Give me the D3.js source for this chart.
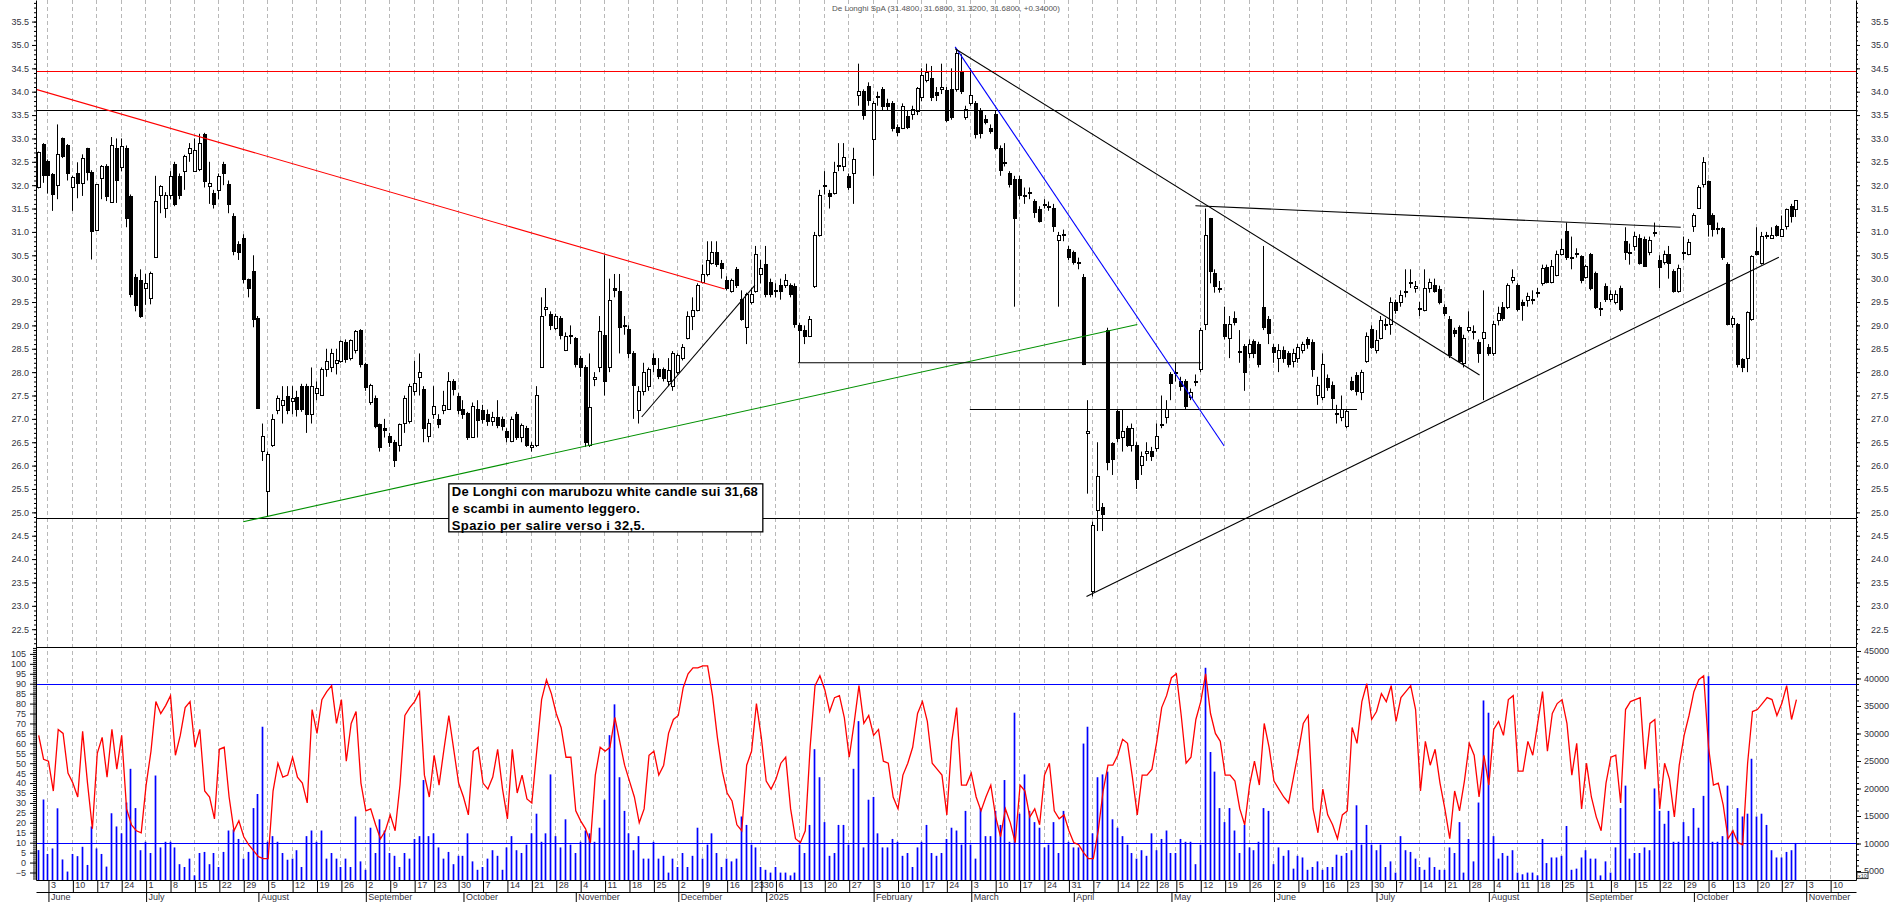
<!DOCTYPE html>
<html>
<head>
<meta charset="utf-8">
<title>De Longhi SpA</title>
<script src="https://cdnjs.cloudflare.com/ajax/libs/d3/7.8.5/d3.min.js"></script>
<style>
  body { margin: 0; background: #fff; }
  svg { display: block; }
</style>
</head>
<body>
<svg id="chart" width="1890" height="902"></svg>
<script>
// Dati (sedute dal 30/05/2024 al 30/10/2025)
const opens = [
  31.97,32.88,32.51,32.24,32.01,33.00,32.86,31.96,32.26,32.04,32.79,32.28,31.05,32.16,32.42,31.63,32.80,
  32.38,32.80,31.76,30.04,29.98,29.80,29.58,30.46,
  31.78,31.52,31.78,32.46,32.20,32.30,32.68,32.30,32.35,33.10,
  31.99,31.84,31.90,32.46,32.02,31.33,30.74,30.88,30.00,30.16,
  29.16,26.31,25.46,26.44,27.20,27.30,27.50,27.38,27.46,27.70,
  27.70,27.10,27.55,27.52,28.06,28.10,28.20,28.24,28.64,28.30,
  28.48,28.90,28.18,27.36,27.44,26.88,26.80,26.64,26.50,26.44,
  26.92,26.96,27.60,27.90,27.64,26.64,27.10,27.00,27.20,27.22,
  27.80,27.50,27.22,27.12,26.62,27.22,27.20,27.10,26.95,27.04,
  27.00,26.74,26.52,27.10,26.62,26.80,26.40,26.44,28.12,29.35,
  29.24,28.94,29.16,28.48,28.80,28.72,28.30,28.12,26.44,27.85,
  28.12,28.80,28.12,29.80,29.74,29.00,28.92,28.40,27.20,27.60,
  27.70,28.30,28.06,28.06,27.82,27.70,28.00,28.30,28.72,29.20,
  29.32,29.92,30.10,30.34,30.56,30.34,29.98,29.74,30.20,29.56,
  28.96,29.50,29.74,30.10,30.32,29.92,29.74,29.86,29.86,29.86,
  29.84,29.00,28.90,28.78,29.84,30.94,32.00,31.84,31.84,32.40,
  32.40,32.20,32.26,33.94,34.02,34.12,32.98,33.90,34.06,33.76,
  33.76,33.24,33.22,33.48,33.52,33.58,33.88,34.24,34.30,34.00,
  34.06,34.04,34.06,34.06,34.42,33.46,33.76,33.76,33.58,33.42,
  33.22,33.52,32.80,32.50,32.26,32.14,32.14,31.80,31.84,31.66,
  31.48,31.58,31.56,31.52,30.82,30.94,30.64,30.56,30.36,30.04,
  26.70,23.32,25.06,25.12,28.90,26.48,27.16,26.62,26.80,26.44,
  26.44,26.02,26.28,26.32,26.38,26.90,27.04,27.96,27.98,27.82,
  27.82,27.46,27.80,28.06,29.02,31.30,30.12,29.80,29.02,28.72,
  29.16,28.46,28.56,28.42,28.66,28.60,
  29.40,29.14,28.54,28.30,28.48,28.40,28.24,28.30,28.48,28.70,
  28.64,27.52,27.46,27.88,27.72,27.12,27.04,26.84,27.82,27.94,
  27.58,28.24,28.92,28.48,28.72,29.02,29.02,29.50,29.50,29.72,
  29.90,29.80,29.36,29.32,29.80,29.86,29.78,29.40,29.14,28.90,
  28.96,28.20,28.90,28.86,28.64,28.72,28.54,28.40,29.12,29.40,
  29.40,29.98,29.86,29.50,29.54,29.56,29.70,29.90,30.26,29.92,
  30.08,30.52,31.02,30.46,30.52,30.48,30.04,30.52,30.12,29.36,
  29.84,29.56,29.50,29.80,30.80,30.56,30.70,30.88,30.84,30.58,
  30.98,30.40,30.36,30.52,30.16,29.74,30.56,30.52,31.12,31.52,
  32.02,32.08,31.36,31.06,31.08,30.32,29.04,29.04,28.28,28.30,
  29.14,30.60,30.34,30.92,30.88,31.12,30.92,31.12,31.56,31.48
];
const highs = [
  32.72,32.90,32.55,32.26,33.30,33.02,32.88,32.20,32.49,32.66,32.80,32.32,32.02,32.43,32.45,33.03,33.00,
  33.00,32.85,31.80,30.10,30.20,30.10,30.15,32.20,
  32.00,31.85,32.30,32.50,32.25,32.65,32.90,33.00,33.10,33.12,
  32.50,31.90,32.25,32.50,32.10,31.40,30.80,30.95,30.00,30.50,
  29.20,26.90,26.30,27.10,27.50,27.70,27.70,27.70,27.60,27.75,
  27.75,28.10,27.80,28.10,28.50,28.50,28.50,28.68,28.70,28.70,
  28.90,28.92,28.20,27.75,27.50,26.90,27.00,26.70,26.55,26.90,
  27.50,27.75,28.24,28.40,27.70,27.00,27.70,27.10,27.60,28.00,
  27.85,27.55,27.40,27.15,27.35,27.40,27.30,27.20,27.15,27.40,
  27.05,26.80,27.05,27.15,26.90,26.85,26.50,27.70,29.60,29.80,
  29.30,29.25,29.20,28.85,29.00,28.75,28.35,28.15,28.40,28.00,
  29.20,30.50,30.00,30.10,30.10,29.20,29.00,28.45,27.70,28.20,
  28.10,28.40,28.30,28.10,28.30,28.45,28.40,28.60,29.30,29.60,
  29.90,30.30,30.80,30.80,30.80,30.40,30.05,30.00,30.25,29.75,
  29.70,29.80,30.70,30.40,30.70,30.00,29.90,30.00,30.10,29.90,
  29.90,29.05,29.00,29.20,31.00,31.90,32.30,31.90,32.50,32.90,
  32.90,32.25,32.80,34.60,34.05,34.20,33.80,34.00,34.10,33.85,
  33.80,33.30,33.75,33.60,33.70,34.10,34.50,34.60,34.55,34.10,
  34.60,34.10,34.50,34.90,34.80,33.70,34.50,33.80,33.65,33.50,
  33.30,33.60,32.85,32.90,32.30,32.20,32.20,31.95,31.95,31.70,
  31.55,31.70,31.65,31.60,31.00,31.05,30.70,30.60,30.45,30.10,
  27.40,24.80,26.50,25.20,28.95,26.50,27.20,27.20,26.85,26.90,
  26.50,26.30,26.50,26.40,26.90,27.50,27.40,28.00,28.20,27.90,
  27.85,27.65,27.95,28.95,31.50,31.30,30.20,29.95,29.40,29.20,
  29.30,28.90,28.60,28.70,28.70,28.65,
  30.70,29.20,28.60,28.60,28.55,28.45,28.50,28.60,28.65,28.75,
  28.70,27.90,28.40,27.95,27.80,27.30,27.50,27.20,27.90,28.00,
  28.05,28.85,29.00,28.90,29.20,29.15,29.60,29.55,29.75,30.20,
  30.20,29.95,29.50,30.20,30.00,30.00,29.85,29.45,29.20,28.95,
  29.00,28.80,29.30,29.00,28.70,29.75,28.60,29.10,29.40,29.50,
  29.90,30.20,29.90,29.55,29.70,29.75,29.80,30.30,30.30,30.40,
  30.60,30.85,31.20,30.90,30.65,30.50,30.30,30.55,30.15,29.50,
  29.90,29.75,29.75,29.85,31.10,30.75,31.00,30.95,30.90,30.90,
  31.20,30.50,30.60,30.70,30.20,30.30,30.90,30.85,31.40,32.00,
  32.60,32.10,31.40,31.20,31.10,30.35,29.20,29.05,28.30,29.30,
  30.50,31.10,31.00,31.00,31.10,31.15,31.35,31.50,31.60,31.68
];
const lows = [
  31.93,32.05,31.82,31.45,31.70,32.58,32.10,31.45,31.72,31.77,32.10,30.41,31.03,31.70,31.66,31.62,31.62,
  32.30,31.10,29.60,29.30,29.16,29.44,29.45,30.46,
  31.40,31.30,31.70,31.55,31.70,31.90,32.50,32.30,32.30,31.95,
  31.60,31.50,31.70,32.00,31.40,30.50,30.40,29.90,29.60,28.96,
  27.22,26.10,24.90,26.40,27.10,26.90,27.10,27.10,27.05,27.15,
  26.70,26.90,27.40,27.50,27.90,28.00,27.95,28.20,28.20,28.25,
  28.40,28.10,27.60,27.30,26.80,26.30,26.60,26.40,25.97,26.30,
  26.70,26.90,27.50,27.50,26.50,26.50,27.00,26.80,27.10,27.20,
  27.50,27.10,27.00,26.55,26.60,26.60,26.90,26.85,26.85,26.80,
  26.75,26.50,26.50,26.55,26.50,26.40,26.30,26.40,28.10,29.20,
  28.90,28.90,28.70,28.45,28.60,28.10,27.90,26.40,26.40,27.70,
  28.00,27.50,28.00,29.60,28.40,28.80,28.30,27.00,26.90,27.50,
  27.60,28.00,27.85,27.80,27.70,27.60,27.95,28.25,28.70,28.90,
  29.30,29.90,30.05,30.30,30.25,30.00,29.75,29.70,29.80,29.10,
  28.60,29.45,29.70,29.90,29.60,29.60,29.60,29.55,29.80,29.60,
  28.95,28.20,28.60,28.75,29.80,30.90,31.80,31.50,31.80,32.30,
  32.30,31.90,31.60,33.70,33.40,33.70,32.20,33.70,33.60,33.60,
  33.15,33.05,33.20,33.20,33.40,33.50,33.80,34.20,33.80,33.80,
  33.95,33.35,33.40,34.00,33.95,33.40,33.70,33.00,33.00,33.30,
  33.10,32.75,32.20,32.40,31.95,29.40,31.70,31.60,31.70,31.30,
  31.20,31.50,31.45,31.00,29.40,30.80,30.40,30.30,30.20,28.15,
  25.40,23.20,24.60,24.60,25.90,25.80,26.50,26.30,26.40,26.30,
  25.50,25.80,26.10,26.10,26.30,26.80,26.90,27.40,27.80,27.60,
  27.20,27.40,27.70,28.00,28.90,29.90,29.70,29.70,28.70,28.30,
  29.00,28.20,27.60,28.30,28.30,28.10,
  28.90,28.60,28.20,28.00,28.20,28.10,28.10,28.20,28.40,28.50,
  27.90,27.30,27.40,27.60,27.20,26.90,26.95,26.80,27.60,27.50,
  27.40,28.20,28.50,28.40,28.70,28.90,28.80,29.25,29.40,29.60,
  29.80,29.70,29.20,29.30,29.70,29.70,29.45,29.20,28.30,28.75,
  28.20,28.10,28.85,28.70,28.20,27.40,28.35,28.35,29.00,29.10,
  29.35,29.90,29.30,29.10,29.40,29.45,29.60,29.85,29.90,29.90,
  30.05,30.50,30.40,30.20,30.45,29.90,30.00,29.75,29.35,29.20,
  29.50,29.50,29.45,29.30,30.40,30.30,30.60,30.30,30.25,30.50,
  30.90,29.80,30.30,30.00,29.70,29.70,30.40,30.50,31.00,31.50,
  31.95,30.90,30.90,30.95,30.40,29.00,28.95,28.10,28.00,28.00,
  29.10,30.50,30.30,30.85,30.85,30.90,30.90,31.05,31.20,31.32
];
const closes = [
  32.70,32.22,32.22,31.82,32.66,32.63,32.27,32.17,32.04,32.59,32.28,31.01,32.02,32.42,31.77,32.85,32.12,
  32.84,31.30,29.68,29.44,29.20,29.90,30.12,31.66,
  31.98,31.78,32.20,31.60,31.78,32.62,32.80,32.75,32.90,32.08,
  32.05,31.60,32.20,32.26,31.60,30.60,30.58,30.00,29.80,29.14,
  27.24,26.64,26.24,27.00,27.44,27.40,27.20,27.45,27.22,27.22,
  27.10,27.70,27.65,28.06,28.24,28.40,28.25,28.66,28.28,28.68,
  28.88,28.18,27.68,27.72,26.84,26.40,26.76,26.50,26.12,26.88,
  27.44,27.70,27.76,28.00,26.80,26.92,27.28,26.88,27.30,27.82,
  27.64,27.20,27.10,26.62,27.28,26.98,27.00,26.95,27.04,26.86,
  26.85,26.62,27.00,26.62,26.86,26.44,26.44,27.52,29.20,29.40,
  29.00,29.20,28.80,28.78,28.80,28.18,28.12,26.50,27.25,27.90,
  28.88,27.80,29.54,29.75,28.96,29.00,28.40,27.72,27.60,28.00,
  28.06,28.18,27.92,27.88,28.04,28.40,28.36,28.54,29.20,29.32,
  29.86,30.10,30.40,30.58,30.32,30.22,29.80,29.98,29.86,29.14,
  29.68,29.68,30.52,30.22,29.68,29.68,29.76,29.74,29.98,29.68,
  29.02,28.90,28.78,29.14,30.94,31.78,32.00,31.76,32.28,32.44,
  32.60,31.96,32.56,34.02,33.50,33.82,33.76,33.88,33.70,33.70,
  33.22,33.14,33.70,33.24,33.64,34.08,34.36,34.42,33.88,33.92,
  34.10,33.40,33.46,34.82,34.02,33.64,33.94,33.10,33.12,33.36,
  33.16,32.80,32.32,32.50,32.02,31.30,31.78,31.78,31.86,31.42,
  31.24,31.60,31.54,31.12,30.94,30.96,30.46,30.36,30.34,28.18,
  26.74,24.72,25.78,24.96,26.08,26.14,26.60,26.74,26.44,26.80,
  25.72,26.20,26.32,26.20,26.64,26.86,27.22,27.76,28.00,27.70,
  27.28,27.58,27.82,28.90,30.94,30.16,29.84,29.80,28.78,29.04,
  29.08,28.44,28.00,28.60,28.42,28.18,
  28.96,28.84,28.44,28.48,28.30,28.18,28.40,28.54,28.60,28.60,
  28.06,27.72,28.18,27.68,27.44,27.10,27.22,27.16,27.64,27.60,
  28.00,28.78,28.54,28.68,29.12,29.04,29.50,29.32,29.64,29.74,
  29.92,29.84,29.38,29.80,29.92,29.74,29.50,29.26,28.36,28.84,
  28.24,28.72,28.96,28.88,28.42,28.86,28.40,29.04,29.26,29.16,
  29.86,30.04,29.36,29.44,29.62,29.56,29.72,30.22,29.92,30.28,
  30.52,30.64,30.46,30.44,30.54,29.98,30.28,29.80,29.40,29.38,
  29.56,29.68,29.68,29.36,30.56,30.58,30.92,30.34,30.28,30.82,
  31.00,30.24,30.52,30.34,29.74,30.22,30.58,30.78,31.36,31.96,
  32.50,31.18,31.06,31.08,30.46,29.02,29.16,28.18,28.10,29.28,
  30.48,30.52,30.92,30.94,30.94,30.94,31.06,31.48,31.34,31.68
];
// oscillatore 0-100 (scala di sinistra del pannello inferiore)
const oscillator = [
  64,52,51,36,67,65,45,40,33,66,40,17,55,63,43,67,47,
  64,27,19,16,15,39,56,81,75,79,
  84,54,64,78,81,58,67,36,33,22,
  57,58,33,16,21,13,9,6,3,2,
  2,36,50,43,44,53,43,40,30,77,
  65,82,86,89,70,82,51,70,76,40,
  26,27,19,12,16,24,16,39,74,78,
  81,86,44,33,54,39,57,74,57,40,
  33,24,56,58,40,37,43,57,37,22,
  57,35,44,32,30,56,82,92,85,75,
  68,53,53,26,21,17,10,44,58,56,
  58,73,61,49,41,33,20,27,
  54,56,44,49,65,72,74,88,95,98,
  98,99,99,84,63,46,35,31,19,16,
  49,56,80,63,41,37,42,50,53,27,
  12,10,16,58,89,94,87,76,83,84,
  73,53,70,89,70,74,64,67,51,50,
  33,27,44,50,58,75,81,71,50,47,
  44,24,61,78,39,39,45,33,26,33,
  39,23,13,27,20,10,39,36,23,27,
  19,44,50,26,22,24,16,10,9,5,
  2,2,16,36,49,49,54,62,60,43,
  24,44,44,47,61,78,84,93,95,74,
  50,53,72,81,95,75,65,61,44,44,
  41,27,19,39,51,39,
  70,58,41,37,33,30,43,56,70,74,
  27,15,37,24,19,12,24,26,68,60,
  81,90,72,76,85,81,89,71,83,86,
  89,77,36,61,49,57,40,27,12,36,
  26,41,60,54,33,54,39,67,71,64,
  82,84,46,46,61,54,70,86,56,75,
  80,82,70,44,60,27,50,33,23,16,
  40,53,54,30,77,81,82,83,47,70,
  72,27,50,42,23,49,64,74,86,92,
  94,58,39,40,29,12,16,10,9,50,
  76,77,80,83,82,74,80,89,72,82
];
// volumi (x10, scala di destra del pannello inferiore)
const volumes = [
  8800,18000,8100,9100,16400,7100,4900,8100,7700,9400,6100,13100,9100,8100,5800,15500,13100,
  11850,17450,23580,16440,8780,10310,8270,22360,9290,10310,
  10310,9290,6240,5730,7250,4200,8270,8470,6240,8270,
  5730,8470,12360,12560,10830,7250,8470,16440,19000,31230,
  10310,11340,10310,8270,7050,7250,8780,5730,11340,12360,
  10310,12360,7250,8270,7250,5730,7250,5730,14910,6750,
  5220,12870,8270,14400,12360,8270,7760,5730,8270,7250,
  10830,11340,21540,11340,11850,9290,7250,8470,6240,7760,
  7760,11850,6750,5220,5730,7250,8780,7760,5220,9290,
  11340,8780,8270,9800,11850,15420,10310,11850,22560,11340,
  9290,14400,9800,8270,10310,12360,11850,10310,12870,17960,
  29700,35300,22050,15930,11850,8780,11340,7250,
  7250,
  10300,7250,7760,4710,7250,5730,8270,5730,7760,12870,
  7250,9800,11850,8270,5730,7250,6750,7250,14910,13380,
  9800,9290,5730,5220,4710,5730,4710,4710,4200,4710,
  9800,8270,13380,27150,22050,13890,7760,8270,13380,13380,
  9800,23580,32250,9290,17960,18470,11850,9290,9290,10830,
  10310,7760,8270,5730,9290,10310,13380,8270,7760,8270,
  10830,12870,12360,9800,15930,9800,7250,16440,11340,11340,
  15930,13380,21540,10310,33780,15420,22560,15930,13890,12870,
  9290,9800,13890,8270,15930,10310,9290,9290,28170,31230,
  11850,22050,22560,23070,14400,12870,11340,9800,8270,7250,
  8780,7760,11850,8780,10830,12360,8270,8270,10830,10310,
  10310,6240,9800,41950,26640,23070,16440,13890,16440,12360,
  8270,13380,9290,8780,10310,
  16440,15930,6240,9290,7760,8780,5430,7760,7460,5220,
  5730,6750,5220,5730,5730,7970,7760,8270,8780,16950,
  9800,13380,9800,8780,9800,5730,6750,4710,11340,8780,
  8470,7250,5730,5220,7460,5730,5220,5220,9290,8270,
  13890,4710,10830,6750,17450,36010,33780,11340,7250,8270,
  7760,8780,4710,4400,4710,4710,4200,10830,6440,7460,
  7460,7760,13180,5220,5430,7460,8780,7250,7250,4200,
  6750,4710,9290,16440,20520,7250,8270,8270,9290,8780,
  20010,15930,13580,15930,10310,10310,13890,11340,16440,12870,
  18660,40420,10310,10310,11340,20520,12360,16440,14910,15420,
  25410,14910,15420,13380,8780,7460,7460,8470,8780,10100
];
// calendario: prima seduta, fine asse, giorni senza dati
const firstSession = "2024-05-30";
const axisEnd = "2025-11-15";
const closedDays = ["2024-09-16","2024-12-24","2024-12-25","2024-12-26","2024-12-31",
  "2025-01-01","2025-04-18","2025-04-21","2025-05-01","2025-08-15"];
// livelli orizzontali (prezzo)
const levelPrices = [34.45, 33.61, 24.87];
// linee di tendenza: [seduta inizio, prezzo, seduta fine, prezzo]
const trendLines = [
  [-0.55, 34.05, 140.5, 29.78],
  [41.9, 24.80, 225.0, 29.02],
  [123.5, 27.04, 146.7, 29.86],
  [155.5, 28.20, 238.0, 28.20],
  [190.7, 27.20, 270.0, 27.20],
  [187.7, 34.96, 242.8, 26.42],
  [187.7, 34.92, 295.1, 27.94],
  [236.9, 31.56, 336.3, 31.10],
  [214.6, 23.20, 356.4, 30.46]
];
const oscLevels = [90, 10];
const titleText = "De Longhi SpA (31.4800, 31.6800, 31.3200, 31.6800, +0.34000)";
const noteLines = [
  "De Longhi con marubozu white candle sui 31,68",
  "e scambi in aumento leggero.",
  "Spazio  per salire verso i 32,5."
];

// ---- configurazione ----
const FONT = '"Liberation Sans", Arial, Helvetica, sans-serif';
const xLeft = 36, xRight = 1856, yTop = 0, ySplit = 647, yBottom = 880;
const levelColors = ["#ff0000", "#000000", "#000000"];
const trendColors = ["#ff0000", "#009000", "#000000", "#000000", "#000000", "#0000ff", "#000000", "#000000", "#000000"];

const svg = d3.select("#chart");

const x = d3.scaleLinear().domain([-0.55, 372.2]).range([xLeft, xRight]);
const yPrice = d3.scaleLinear().domain([22.119, 35.962]).range([ySplit, yTop]);
const yOsc = d3.scaleLinear().domain([-8.77, 108.47]).range([yBottom, ySplit]);
const yVol = d3.scaleLinear().domain([3364, 45727]).range([yBottom, ySplit]);

// sedute di borsa
const parseDay = d3.utcParse("%Y-%m-%d");
const fmtDay = d3.utcFormat("%Y-%m-%d");
const closedSet = new Set(closedDays);
const sessions = d3.utcDays(parseDay(firstSession), parseDay(axisEnd))
  .filter(d => d.getUTCDay() % 6 !== 0 && !closedSet.has(fmtDay(d)));

const weekStarts = [];
const monthStarts = [];
sessions.forEach((d, i) => {
  if (i === 0) return;
  const p = sessions[i - 1];
  if (+d3.utcMonday.floor(d) !== +d3.utcMonday.floor(p)) weekStarts.push(i);
  if (d.getUTCMonth() !== p.getUTCMonth()) monthStarts.push(i);
});
const monthName = d3.utcFormat("%B");
const monthLabel = i => {
  const d = sessions[i];
  return d.getUTCMonth() === 0 ? String(d.getUTCFullYear()) : monthName(d);
};

// clip
const defs = svg.append("defs");
defs.append("clipPath").attr("id", "clipTop")
  .append("rect").attr("x", xLeft).attr("y", yTop).attr("width", xRight - xLeft).attr("height", ySplit - yTop);
defs.append("clipPath").attr("id", "clipBottom")
  .append("rect").attr("x", xLeft).attr("y", ySplit).attr("width", xRight - xLeft).attr("height", yBottom - ySplit);

// griglia verticale tratteggiata
svg.append("g")
  .selectAll("line")
  .data(weekStarts)
  .join("line")
  .attr("x1", i => Math.round(x(i)) - 0.5)
  .attr("x2", i => Math.round(x(i)) - 0.5)
  .attr("y1", yTop)
  .attr("y2", yBottom)
  .attr("stroke", "#b8b8b8")
  .attr("stroke-dasharray", "4,3");

// ---- pannello prezzi ----
const candles = closes.map((c, i) => ({ i, o: opens[i], h: highs[i], l: lows[i], c }));
const priceG = svg.append("g").attr("clip-path", "url(#clipTop)");

priceG.append("g")
  .selectAll("line")
  .data(candles)
  .join("line")
  .attr("x1", d => Math.round(x(d.i)) - 0.5)
  .attr("x2", d => Math.round(x(d.i)) - 0.5)
  .attr("y1", d => yPrice(d.h))
  .attr("y2", d => yPrice(d.l))
  .attr("stroke", "#000")
  .attr("stroke-width", 1);

priceG.append("g")
  .selectAll("rect")
  .data(candles)
  .join("rect")
  .attr("x", d => Math.round(x(d.i)) - 1.5)
  .attr("width", 3)
  .attr("y", d => Math.round(yPrice(Math.max(d.o, d.c))) + 0.5)
  .attr("height", d => Math.max(1, Math.round(yPrice(Math.min(d.o, d.c))) - Math.round(yPrice(Math.max(d.o, d.c)))))
  .attr("fill", d => d.c >= d.o ? "#fff" : "#000")
  .attr("stroke", "#000")
  .attr("stroke-width", 1);

// livelli orizzontali
priceG.append("g")
  .selectAll("line")
  .data(levelPrices)
  .join("line")
  .attr("x1", xLeft)
  .attr("x2", xRight)
  .attr("y1", p => Math.round(yPrice(p)) + 0.5)
  .attr("y2", p => Math.round(yPrice(p)) + 0.5)
  .attr("stroke", (p, k) => levelColors[k])
  .attr("stroke-width", 1.2);

// linee di tendenza
priceG.append("g")
  .selectAll("line")
  .data(trendLines)
  .join("line")
  .attr("x1", t => x(t[0]))
  .attr("y1", t => yPrice(t[1]))
  .attr("x2", t => x(t[2]))
  .attr("y2", t => yPrice(t[3]))
  .attr("stroke", (t, k) => trendColors[k])
  .attr("stroke-width", 1.1);

// ---- pannello inferiore ----
const lowG = svg.append("g").attr("clip-path", "url(#clipBottom)");

lowG.append("g")
  .selectAll("line")
  .data(volumes)
  .join("line")
  .attr("x1", (v, i) => Math.round(x(i)) - 0.5)
  .attr("x2", (v, i) => Math.round(x(i)) - 0.5)
  .attr("y1", yBottom)
  .attr("y2", v => yVol(v))
  .attr("stroke", "#0000ff")
  .attr("stroke-width", 1.7);

lowG.append("g")
  .selectAll("line")
  .data(oscLevels)
  .join("line")
  .attr("x1", xLeft)
  .attr("x2", xRight)
  .attr("y1", v => Math.round(yOsc(v)) + 0.5)
  .attr("y2", v => Math.round(yOsc(v)) + 0.5)
  .attr("stroke", "#0000ff")
  .attr("stroke-width", 1.2);

lowG.append("path")
  .datum(oscillator)
  .attr("fill", "none")
  .attr("stroke", "#ff0000")
  .attr("stroke-width", 1.3)
  .attr("d", d3.line().x((v, i) => x(i)).y(v => yOsc(v)));

// ---- assi ----
function styleAxis(g, size) {
  g.attr("font-family", FONT).attr("font-size", size).attr("color", "#000");
  g.selectAll("text").attr("fill", "#333340");
}
const priceMajor = d3.range(225, 360, 5).map(v => v / 10);
const priceMinor = d3.range(222, 360).map(v => v / 10);
const oscMajor = d3.range(-5, 106, 5);
const oscMinor = d3.range(-8, 109);
const volMajor = d3.range(5000, 45001, 5000);
const volMinor = d3.range(4000, 45001, 1000);

svg.append("g").attr("transform", `translate(${xLeft},0)`)
  .call(d3.axisLeft(yPrice).tickValues(priceMinor).tickSize(2).tickFormat("").tickSizeOuter(0))
  .call(g => g.select(".domain").remove());
svg.append("g").attr("transform", `translate(${xLeft},0)`)
  .call(d3.axisLeft(yPrice).tickValues(priceMajor).tickSize(4).tickPadding(3).tickFormat(d3.format(".1f")).tickSizeOuter(0))
  .call(g => styleAxis(g, 9));

svg.append("g").attr("transform", `translate(${xRight},0)`)
  .call(d3.axisRight(yPrice).tickValues(priceMinor).tickSize(2).tickFormat("").tickSizeOuter(0))
  .call(g => g.select(".domain").remove());
svg.append("g").attr("transform", `translate(${xRight},0)`)
  .call(d3.axisRight(yPrice).tickValues(priceMajor).tickSize(4).tickPadding(11).tickFormat(d3.format(".1f")).tickSizeOuter(0))
  .call(g => styleAxis(g, 9));

svg.append("g").attr("transform", `translate(${xLeft},0)`)
  .call(d3.axisLeft(yOsc).tickValues(oscMinor).tickSize(3).tickFormat("").tickSizeOuter(0))
  .call(g => g.select(".domain").remove());
svg.append("g").attr("transform", `translate(${xLeft},0)`)
  .call(d3.axisLeft(yOsc).tickValues(oscMajor).tickSize(6).tickPadding(4).tickFormat(d3.format("d")).tickSizeOuter(0))
  .call(g => styleAxis(g, 9));

svg.append("g").attr("transform", `translate(${xRight},0)`)
  .call(d3.axisRight(yVol).tickValues(volMinor).tickSize(3).tickFormat("").tickSizeOuter(0))
  .call(g => g.select(".domain").remove());
svg.append("g").attr("transform", `translate(${xRight},0)`)
  .call(d3.axisRight(yVol).tickValues(volMajor).tickSize(5).tickPadding(3).tickFormat(d3.format("d")).tickSizeOuter(0))
  .call(g => styleAxis(g, 9));

// separatore tra pannelli
svg.append("line")
  .attr("x1", xLeft).attr("x2", xRight)
  .attr("y1", ySplit + 0.5).attr("y2", ySplit + 0.5)
  .attr("stroke", "#000").attr("stroke-width", 1.2);

// asse date: giorni
svg.append("g").attr("transform", `translate(0,${yBottom})`)
  .call(d3.axisBottom(x).tickValues(weekStarts).tickSize(12).tickSizeOuter(0)
    .tickFormat(i => sessions[i].getUTCDate()))
  .call(g => styleAxis(g, 9))
  .call(g => g.selectAll(".tick text").attr("text-anchor", "start").attr("x", 2).attr("y", 2));

// asse date: mesi
svg.append("g").attr("transform", `translate(0,${yBottom + 12})`)
  .call(d3.axisBottom(x).tickValues(monthStarts).tickSize(11).tickSizeOuter(0).tickFormat(monthLabel))
  .call(g => styleAxis(g, 9))
  .call(g => g.selectAll(".tick text").attr("text-anchor", "start").attr("x", 2).attr("y", 1.5));

// marcatore x10
const mark = svg.append("g").attr("transform", `translate(${xRight + 1},${yVol(4700)})`);
mark.append("rect").attr("width", 11).attr("height", 6).attr("fill", "#fff").attr("stroke", "#000").attr("stroke-width", 0.8);
mark.append("text").attr("x", 1).attr("y", 5).attr("font-family", FONT).attr("font-size", 5.5).attr("fill", "#333").text("x10");

// titolo
svg.append("text")
  .attr("x", (xLeft + xRight) / 2)
  .attr("y", 10.5)
  .attr("text-anchor", "middle")
  .attr("font-family", FONT)
  .attr("font-size", 8)
  .attr("fill", "#555")
  .text(titleText);

// riquadro commento
const noteG = svg.append("g")
  .attr("transform", `translate(${x(84.0)},${yPrice(25.61)})`);
noteG.append("rect")
  .attr("width", 314).attr("height", 48)
  .attr("fill", "#fff").attr("stroke", "#000").attr("stroke-width", 1.3);
const noteWidths = [306, 188, 193];
noteG.selectAll("text")
  .data(noteLines)
  .join("text")
  .attr("x", 3)
  .attr("y", (t, k) => 12.5 + k * 16.7)
  .attr("font-family", FONT)
  .attr("font-size", 13)
  .attr("font-weight", "bold")
  .attr("fill", "#000")
  .attr("textLength", (t, k) => noteWidths[k])
  .attr("lengthAdjust", "spacing")
  .text(t => t);
</script>
</body>
</html>
